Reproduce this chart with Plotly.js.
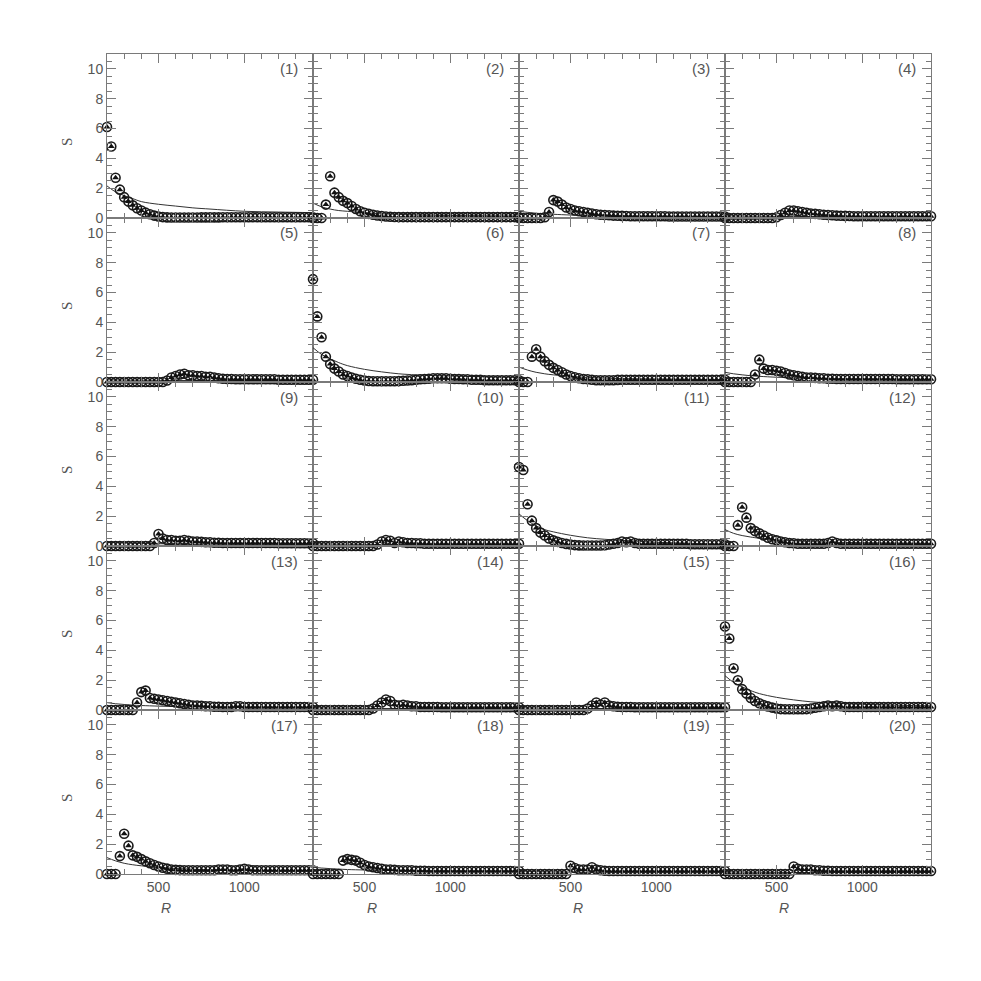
<!DOCTYPE html>
<html>
<head>
<meta charset="utf-8">
<script src="https://cdn.plot.ly/plotly-3.0.1.min.js"></script>
<style>html,body{margin:0;padding:0;background:#fff;}#chart{width:981px;height:981px;}</style>
</head>
<body>
<div id="chart"></div>
<script>
// Radius grid of the measured points
const R = [200,225,250,275,300,325,350,375,400,425,450,475,500,525,550,575,600,625,650,675,700,725,750,775,800,825,850,875,900,925,950,975,1000,1025,1050,1075,1100,1125,1150,1175,1200,1225,1250,1275,1300,1325,1350,1375,1400];

// Measured S per panel
const S1 = [6.1,4.8,2.7,1.9,1.4,1.1,0.85,0.65,0.5,0.36, 0.25,0.16,0.1,0.06,0.04,0.03,0.03,0.03,0.03,0.03, 0.03,0.03,0.04,0.04,0.04,0.04,0.04,0.05,0.05,0.05, 0.05,0.05,0.05,0.05,0.05,0.05,0.05,0.05,0.05,0.05, 0.05,0.05,0.05,0.05,0.05,0.05,0.05,0.05,0.05];
const S2 = [0,0,0,0.9,2.8,1.7,1.4,1.15,1.0,0.8, 0.6,0.45,0.35,0.28,0.22,0.17,0.13,0.1,0.08,0.07, 0.06,0.06,0.06,0.06,0.06,0.06,0.06,0.06,0.06,0.06, 0.06,0.06,0.06,0.06,0.06,0.06,0.06,0.06,0.06,0.06, 0.06,0.06,0.06,0.06,0.06,0.06,0.06,0.06,0.06];
const S3 = [0,0,0,0,0,0,0.05,0.4,1.2,1.1, 0.9,0.7,0.6,0.5,0.45,0.4,0.35,0.3,0.25,0.22, 0.2,0.18,0.16,0.15,0.14,0.13,0.12,0.12,0.12,0.12, 0.12,0.12,0.12,0.12,0.12,0.1,0.1,0.1,0.1,0.1, 0.1,0.1,0.1,0.1,0.1,0.1,0.1,0.1,0.1];
const S4 = [0,0,0,0,0,0,0,0,0,0, 0,0,0.05,0.2,0.35,0.5,0.5,0.45,0.4,0.35, 0.3,0.28,0.25,0.22,0.2,0.18,0.16,0.15,0.14,0.13, 0.12,0.12,0.12,0.12,0.12,0.12,0.12,0.12,0.12,0.12, 0.12,0.12,0.12,0.12,0.12,0.12,0.12,0.12,0.12];
const S5 = [0,0,0,0,0,0,0,0,0,0, 0,0,0,0,0.1,0.3,0.4,0.5,0.55,0.45, 0.45,0.4,0.4,0.35,0.35,0.3,0.25,0.22,0.2,0.2, 0.18,0.18,0.18,0.18,0.18,0.18,0.18,0.18,0.18,0.18, 0.15,0.15,0.15,0.15,0.15,0.15,0.15,0.15,0.15];
const S6 = [6.9,4.4,3.0,1.7,1.2,0.9,0.7,0.5,0.4,0.3, 0.22,0.15,0.1,0.07,0.05,0.05,0.05,0.05,0.05,0.05, 0.06,0.08,0.1,0.12,0.15,0.18,0.2,0.22,0.25,0.25, 0.25,0.25,0.22,0.2,0.2,0.18,0.18,0.15,0.15,0.15, 0.12,0.12,0.12,0.12,0.12,0.12,0.12,0.12,0.12];
const S7 = [0,0,0,1.7,2.2,1.7,1.4,1.15,0.95,0.8, 0.65,0.5,0.4,0.32,0.25,0.2,0.18,0.15,0.12,0.12, 0.12,0.12,0.12,0.14,0.15,0.15,0.15,0.15,0.15,0.15, 0.15,0.15,0.15,0.15,0.15,0.15,0.15,0.15,0.15,0.15, 0.15,0.15,0.15,0.15,0.15,0.15,0.15,0.15,0.15];
const S8 = [0,0,0,0,0,0,0,0.5,1.5,0.9, 0.8,0.8,0.75,0.7,0.6,0.5,0.45,0.4,0.35,0.3, 0.3,0.28,0.25,0.25,0.22,0.22,0.2,0.2,0.2,0.2, 0.2,0.2,0.2,0.2,0.2,0.2,0.2,0.2,0.2,0.2, 0.18,0.18,0.18,0.18,0.18,0.18,0.18,0.18,0.18];
const S9 = [0,0,0,0,0,0,0,0,0,0, 0,0.2,0.8,0.5,0.4,0.4,0.35,0.35,0.4,0.35, 0.3,0.3,0.28,0.25,0.25,0.22,0.22,0.2,0.2,0.2, 0.2,0.2,0.2,0.2,0.2,0.2,0.2,0.2,0.2,0.2, 0.18,0.18,0.18,0.18,0.18,0.18,0.18,0.18,0.18];
const S10 = [0,0,0,0,0,0,0,0,0,0, 0,0,0,0,0,0.1,0.3,0.4,0.35,0.2, 0.3,0.25,0.2,0.2,0.18,0.18,0.15,0.15,0.15,0.15, 0.15,0.15,0.15,0.15,0.15,0.15,0.15,0.15,0.15,0.15, 0.15,0.15,0.15,0.15,0.15,0.15,0.15,0.15,0.15];
const S11 = [5.3,5.1,2.8,1.7,1.2,0.9,0.7,0.5,0.38,0.28, 0.2,0.14,0.1,0.06,0.04,0.03,0.03,0.03,0.03,0.03, 0.05,0.1,0.15,0.2,0.3,0.25,0.3,0.2,0.15,0.15, 0.15,0.15,0.15,0.15,0.15,0.15,0.15,0.15,0.15,0.15, 0.12,0.12,0.12,0.12,0.12,0.12,0.12,0.12,0.12];
const S12 = [0,0,0,1.4,2.6,1.9,1.2,1.0,0.85,0.7, 0.55,0.45,0.38,0.3,0.25,0.2,0.18,0.15,0.15,0.15, 0.15,0.15,0.15,0.15,0.2,0.3,0.2,0.15,0.15,0.15, 0.15,0.15,0.15,0.15,0.15,0.15,0.15,0.15,0.15,0.15, 0.15,0.15,0.15,0.15,0.15,0.15,0.15,0.15,0.15];
const S13 = [0,0,0,0,0,0,0,0.5,1.2,1.3, 0.8,0.75,0.7,0.65,0.6,0.55,0.5,0.45,0.4,0.35, 0.3,0.3,0.28,0.25,0.25,0.22,0.22,0.2,0.2,0.2, 0.25,0.25,0.2,0.2,0.2,0.2,0.2,0.2,0.2,0.2, 0.2,0.2,0.2,0.2,0.2,0.2,0.2,0.2,0.2];
const S14 = [0,0,0,0,0,0,0,0,0,0, 0,0,0,0,0.1,0.3,0.5,0.7,0.6,0.35, 0.3,0.35,0.3,0.25,0.25,0.2,0.2,0.2,0.2,0.2, 0.18,0.18,0.18,0.18,0.18,0.18,0.18,0.18,0.18,0.18, 0.18,0.18,0.18,0.18,0.18,0.18,0.18,0.18,0.18];
const S15 = [0,0,0,0,0,0,0,0,0,0, 0,0,0,0,0,0,0.1,0.3,0.5,0.35, 0.5,0.3,0.25,0.22,0.2,0.2,0.2,0.18,0.18,0.18, 0.18,0.18,0.18,0.18,0.18,0.18,0.18,0.18,0.18,0.18, 0.18,0.18,0.18,0.18,0.18,0.18,0.18,0.18,0.18];
const S16 = [5.6,4.8,2.8,2.0,1.4,1.1,0.8,0.6,0.45,0.33, 0.24,0.16,0.1,0.06,0.05,0.05,0.05,0.05,0.05,0.06, 0.1,0.15,0.2,0.25,0.3,0.25,0.3,0.25,0.2,0.2, 0.2,0.2,0.2,0.2,0.2,0.2,0.2,0.2,0.2,0.2, 0.2,0.2,0.2,0.2,0.2,0.2,0.2,0.2,0.2];
const S17 = [0,0,0,1.2,2.7,1.9,1.25,1.15,1.0,0.85, 0.72,0.6,0.5,0.42,0.36,0.3,0.28,0.26,0.25,0.25, 0.25,0.25,0.25,0.25,0.25,0.25,0.3,0.3,0.3,0.25, 0.25,0.3,0.35,0.3,0.25,0.25,0.25,0.25,0.25,0.25, 0.25,0.25,0.25,0.25,0.25,0.25,0.25,0.25,0.25];
const S18 = [0,0,0,0,0,0,0,0.9,1.0,0.95, 0.9,0.75,0.6,0.5,0.45,0.4,0.35,0.3,0.3,0.28, 0.25,0.25,0.25,0.25,0.22,0.22,0.22,0.2,0.2,0.2, 0.2,0.2,0.2,0.2,0.2,0.2,0.2,0.2,0.2,0.2, 0.2,0.2,0.2,0.2,0.2,0.2,0.2,0.2,0.2];
const S19 = [0,0,0,0,0,0,0,0,0,0, 0,0,0.55,0.4,0.3,0.3,0.3,0.45,0.3,0.25, 0.22,0.2,0.2,0.2,0.2,0.2,0.2,0.2,0.2,0.2, 0.2,0.2,0.2,0.2,0.2,0.2,0.2,0.2,0.2,0.2, 0.2,0.2,0.2,0.2,0.2,0.2,0.2,0.2,0.2];
const S20 = [0,0,0,0,0,0,0,0,0,0, 0,0,0,0,0,0,0.5,0.35,0.3,0.3, 0.3,0.25,0.25,0.22,0.22,0.2,0.2,0.2,0.2,0.2, 0.2,0.2,0.2,0.2,0.2,0.2,0.2,0.2,0.2,0.2, 0.2,0.2,0.2,0.2,0.2,0.2,0.2,0.2,0.2];

// Smooth model curve per panel
const RC = [200,250,300,350,400,500,600,700,800,1000,1200,1400];
const C1 = [2.15,1.75,1.5,1.3,1.1,0.92,0.8,0.68,0.6,0.45,0.4,0.36];
const C2 = [1.0,0.75,0.6,0.5,0.45,0.35,0.28,0.24,0.2,0.17,0.15,0.13];
const C3 = [0.45,0.38,0.32,0.28,0.25,0.2,0.17,0.15,0.14,0.12,0.11,0.1];
const C4 = [0.15,0.14,0.13,0.12,0.12,0.11,0.1,0.1,0.1,0.1,0.1,0.1];
const C5 = [0.15,0.14,0.13,0.12,0.12,0.11,0.1,0.1,0.1,0.1,0.1,0.1];
const C6 = [2.3,1.85,1.55,1.3,1.1,0.85,0.68,0.55,0.48,0.4,0.35,0.3];
const C7 = [1.0,0.8,0.65,0.55,0.48,0.38,0.3,0.26,0.23,0.2,0.18,0.16];
const C8 = [0.65,0.55,0.48,0.42,0.38,0.32,0.28,0.25,0.22,0.2,0.18,0.17];
const C9 = [0.25,0.22,0.2,0.18,0.17,0.15,0.14,0.13,0.13,0.12,0.12,0.12];
const C10 = [0.15,0.14,0.13,0.12,0.12,0.11,0.1,0.1,0.1,0.1,0.1,0.1];
const C11 = [2.15,1.7,1.35,1.1,0.95,0.72,0.55,0.45,0.38,0.25,0.18,0.12];
const C12 = [1.1,0.85,0.7,0.6,0.52,0.42,0.35,0.3,0.26,0.22,0.2,0.18];
const C13 = [0.5,0.42,0.37,0.33,0.3,0.26,0.23,0.21,0.2,0.19,0.18,0.18];
const C14 = [0.15,0.14,0.13,0.12,0.12,0.11,0.1,0.1,0.1,0.1,0.1,0.1];
const C15 = [0.15,0.14,0.13,0.12,0.12,0.11,0.1,0.1,0.1,0.1,0.1,0.1];
const C16 = [2.3,1.85,1.55,1.3,1.1,0.85,0.68,0.55,0.48,0.38,0.32,0.28];
const C17 = [1.1,0.88,0.72,0.62,0.55,0.45,0.37,0.32,0.28,0.25,0.23,0.22];
const C18 = [0.45,0.4,0.36,0.33,0.3,0.27,0.25,0.23,0.22,0.21,0.2,0.2];
const C19 = [0.2,0.18,0.16,0.15,0.14,0.13,0.12,0.12,0.12,0.12,0.12,0.12];
const C20 = [0.15,0.14,0.13,0.12,0.12,0.11,0.1,0.1,0.1,0.1,0.1,0.1];

const PANEL_LABELS = ['(1)','(2)','(3)','(4)','(5)','(6)','(7)','(8)','(9)','(10)','(11)','(12)','(13)','(14)','(15)','(16)','(17)','(18)','(19)','(20)'];
const X_TITLE = 'R';
const Y_TITLE = 'S';

const S = [S1,S2,S3,S4,S5,S6,S7,S8,S9,S10,S11,S12,S13,S14,S15,S16,S17,S18,S19,S20];
const C = [C1,C2,C3,C4,C5,C6,C7,C8,C9,C10,C11,C12,C13,C14,C15,C16,C17,C18,C19,C20];

const W = 981, H = 981;
const X0 = 107, PW = 206, Y0 = 54, PH = 164;
const axisColor = '#7a7a7a';
const tickFont = {family: 'Liberation Sans, Arial, sans-serif', size: 14, color: '#555'};

const traces = [];
const layout = {
  width: W, height: H,
  margin: {l: 0, r: 0, t: 0, b: 0},
  paper_bgcolor: '#fff', plot_bgcolor: '#fff',
  showlegend: false,
  annotations: []
};

for (let i = 0; i < 20; i++) {
  const row = Math.floor(i / 4), col = i % 4;
  const sfx = i === 0 ? '' : String(i + 1);
  const xa = 'x' + sfx, ya = 'y' + sfx;
  const xd = [(X0 + PW * col) / W, (X0 + PW * (col + 1)) / W];
  const top = Y0 + PH * row, bot = top + PH;
  const yd = [1 - bot / H, 1 - top / H];

  traces.push({x: RC, y: C[i], xaxis: xa, yaxis: ya, mode: 'lines',
    line: {color: '#333', width: 1, shape: 'spline'}, hoverinfo: 'skip'});
  traces.push({x: R, y: S[i], xaxis: xa, yaxis: ya, mode: 'markers', cliponaxis: false,
    marker: {symbol: 'circle-open', size: 9, color: '#1a1a1a', line: {width: 1.6, color: '#1a1a1a'}}, hoverinfo: 'skip'});
  traces.push({x: R, y: S[i], xaxis: xa, yaxis: ya, mode: 'markers', cliponaxis: false,
    marker: {symbol: 'triangle-up', size: 6, color: '#111'}, hoverinfo: 'skip'});

  layout['xaxis' + sfx] = {
    domain: xd, anchor: ya, range: [200, 1400], tick0: 0, dtick: 500,
    showline: true, linecolor: axisColor, linewidth: 1, mirror: 'ticks',
    ticks: 'inside', ticklen: 9, tickcolor: axisColor, tickwidth: 1,
    minor: {dtick: 100, tick0: 0, ticks: 'inside', ticklen: 5, tickcolor: axisColor, showgrid: false},
    showgrid: false, zeroline: false, showticklabels: row === 4, tickfont: tickFont, fixedrange: true
  };
  layout['yaxis' + sfx] = {
    domain: yd, anchor: xa, range: [0, 11], tick0: 0, dtick: 2,
    showline: true, linecolor: axisColor, linewidth: 1, mirror: 'ticks',
    ticks: 'inside', ticklen: 9, tickcolor: axisColor, tickwidth: 1,
    minor: {dtick: 0.5, tick0: 0, ticks: 'inside', ticklen: 5, tickcolor: axisColor, showgrid: false},
    showgrid: false, zeroline: false, showticklabels: col === 0, tickfont: tickFont, fixedrange: true
  };

  layout.annotations.push({
    text: PANEL_LABELS[i], xref: 'paper', yref: 'paper',
    x: (X0 + PW * (col + 1) - 13) / W, y: 1 - (top + 15) / H,
    xanchor: 'right', yanchor: 'middle', showarrow: false,
    font: {family: 'Liberation Sans, Arial, sans-serif', size: 15, color: '#555'}
  });
  if (col === 0) {
    layout.annotations.push({
      text: Y_TITLE, xref: 'paper', yref: 'paper',
      x: 67 / W, y: 1 - (top + 88) / H, xanchor: 'center', yanchor: 'middle',
      textangle: -90, showarrow: false,
      font: {family: 'Liberation Serif, Times New Roman, serif', size: 15, color: '#555'}
    });
  }
  if (row === 4) {
    layout.annotations.push({
      text: '<i>' + X_TITLE + '</i>', xref: xa, yref: 'paper',
      x: 543, y: 1 - 908 / H, xanchor: 'center', yanchor: 'middle', showarrow: false,
      font: {family: 'Liberation Sans, Arial, sans-serif', size: 14, color: '#555'}
    });
  }
}

Plotly.newPlot('chart', traces, layout, {displayModeBar: false, staticPlot: true});
</script>
</body>
</html>
